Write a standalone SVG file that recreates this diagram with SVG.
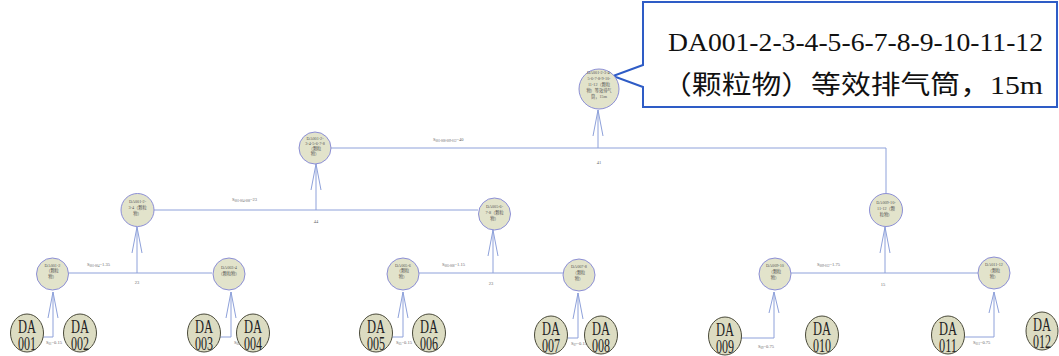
<svg xmlns="http://www.w3.org/2000/svg" width="1059" height="356" viewBox="0 0 1059 356">
<style>
.ln{stroke:#8ea1da;fill:none;stroke-width:1}
.nd{fill:#e2e3cb;stroke:#8c8fd6;stroke-width:1}
.da{fill:#dcdcc2;stroke:#4a4a3a;stroke-width:1}
.nt{font-family:"Liberation Serif","Noto Sans CJK SC",serif;font-size:4.2px;fill:#555;text-anchor:middle}
.dt{font-family:"Liberation Serif",serif;font-size:19px;fill:#222}
.lb{font-family:"Liberation Serif",serif;font-size:4.5px;fill:#666}
.ct{font-family:"Liberation Serif","Noto Sans CJK SC",serif;font-size:26px;fill:#111}
</style>
<defs>
<marker id="v" markerUnits="userSpaceOnUse" markerWidth="30" markerHeight="14" viewBox="-28 -7 30 14" refX="0" refY="0" orient="auto" overflow="visible">
<path d="M-26,-5 L0,0 L-26,5" fill="none" stroke="#8ea1da" stroke-width="1"/>
</marker>
<marker id="vs" markerUnits="userSpaceOnUse" markerWidth="24" markerHeight="14" viewBox="-22 -7 24 14" refX="0" refY="0" orient="auto" overflow="visible">
<path d="M-21,-5 L0,0 L-21,5" fill="none" stroke="#8ea1da" stroke-width="1"/>
</marker>
</defs>
<rect width="1059" height="356" fill="#fff"/>

<g id="connectors">
<path class="ln" d="M43,337 H53 V292" marker-end="url(#v)"/>
<path class="ln" d="M220,337 H231 V292" marker-end="url(#v)"/>
<path class="ln" d="M392,337 H403 V292" marker-end="url(#v)"/>
<path class="ln" d="M567,338 H578 V293" marker-end="url(#v)"/>
<path class="ln" d="M741,338 H774 V292" marker-end="url(#vs)"/>
<path class="ln" d="M965,337 H994 V292" marker-end="url(#vs)"/>
<path class="ln" d="M68,273 H212"/>
<path class="ln" d="M137,273 V227" marker-end="url(#v)"/>
<path class="ln" d="M419,273 H563"/>
<path class="ln" d="M493,273 V230" marker-end="url(#v)"/>
<path class="ln" d="M791,273 H978"/>
<path class="ln" d="M885,273 V227" marker-end="url(#v)"/>
<path class="ln" d="M154,210 H478"/>
<path class="ln" d="M316,210 V164" marker-end="url(#v)"/>
<path class="ln" d="M331,148 H886 V193"/>
<path class="ln" d="M598,148 V110" marker-end="url(#v)"/>
<text class="lb" x="46" y="344">S<tspan font-size="3px" dy="1">01</tspan><tspan dy="-1">=0.15</tspan></text>
<text class="lb" x="234" y="344">S<tspan font-size="3px" dy="1">03</tspan><tspan dy="-1">=0.15</tspan></text>
<text class="lb" x="396" y="344">S<tspan font-size="3px" dy="1">05</tspan><tspan dy="-1">=0.15</tspan></text>
<text class="lb" x="571" y="345">S<tspan font-size="3px" dy="1">07</tspan><tspan dy="-1">=0.15</tspan></text>
<text class="lb" x="758" y="348">S<tspan font-size="3px" dy="1">09</tspan><tspan dy="-1">=0.75</tspan></text>
<text class="lb" x="973" y="344">S<tspan font-size="3px" dy="1">011</tspan><tspan dy="-1">=0.75</tspan></text>
<text class="lb" x="87" y="266">S<tspan font-size="3px" dy="1">001-004</tspan><tspan dy="-1">=1.35</tspan></text>
<text class="lb" x="442" y="266">S<tspan font-size="3px" dy="1">005-008</tspan><tspan dy="-1">=1.15</tspan></text>
<text class="lb" x="817" y="266">S<tspan font-size="3px" dy="1">009-012</tspan><tspan dy="-1">=1.75</tspan></text>
<text class="lb" x="232" y="201">S<tspan font-size="3px" dy="1">001-004-008</tspan><tspan dy="-1">=23</tspan></text>
<text class="lb" x="433" y="141">S<tspan font-size="3px" dy="1">001-008-009-012</tspan><tspan dy="-1">=40</tspan></text>
<text class="lb" x="137" y="284" text-anchor="middle">23</text>
<text class="lb" x="491" y="285" text-anchor="middle">23</text>
<text class="lb" x="883" y="286" text-anchor="middle">15</text>
<text class="lb" x="316" y="223" text-anchor="middle">44</text>
<text class="lb" x="599" y="164" text-anchor="middle">41</text>
</g>

<g id="callout">
<path d="M643,2 H1057 V107 H643 V87 L613,76 L643,65 Z" fill="#fff" stroke="#2e5cc6" stroke-width="2"/>
<text class="ct" x="668" y="51" textLength="375" lengthAdjust="spacingAndGlyphs">DA001-2-3-4-5-6-7-8-9-10-11-12</text>
<text class="ct" x="662" y="94" textLength="381" lengthAdjust="spacingAndGlyphs">（颗粒物）等效排气筒，15m</text>
</g>

<g id="node-top">
<circle class="nd" cx="599" cy="89" r="20"/>
<text class="nt" x="599" y="74">DA001-2-3-4-</text>
<text class="nt" x="599" y="80">5-6-7-8-9-10-</text>
<text class="nt" x="599" y="86">11-12（颗粒</text>
<text class="nt" x="599" y="92">物）等效排气</text>
<text class="nt" x="599" y="98">筒，15m</text>
</g>
<g id="node-1-8">
<circle class="nd" cx="315" cy="148" r="16"/>
<text class="nt" x="315" y="140">DA001-2-</text>
<text class="nt" x="315" y="145">3-4-5-6-7-8</text>
<text class="nt" x="315" y="150">（颗粒</text>
<text class="nt" x="315" y="155">物）</text>
</g>
<g id="node-9-12">
<circle class="nd" cx="886" cy="210" r="16.5"/>
<text class="nt" x="886" y="204">DA009-10-</text>
<text class="nt" x="886" y="210">11-12（颗</text>
<text class="nt" x="886" y="216">粒物）</text>
</g>
<g id="node-1-4">
<circle class="nd" cx="137.5" cy="210" r="16.5"/>
<text class="nt" x="137.5" y="203">DA001-2-</text>
<text class="nt" x="137.5" y="209">3-4（颗粒</text>
<text class="nt" x="137.5" y="215">物）</text>
</g>
<g id="node-5-8">
<circle class="nd" cx="494.5" cy="214" r="16"/>
<text class="nt" x="494.5" y="208">DA005-6-</text>
<text class="nt" x="494.5" y="214">7-8（颗粒</text>
<text class="nt" x="494.5" y="220">物）</text>
</g>
<g id="node-1-2">
<circle class="nd" cx="52.5" cy="274" r="16"/>
<text class="nt" x="52.5" y="267">DA001-2</text>
<text class="nt" x="52.5" y="272">（颗粒</text>
<text class="nt" x="52.5" y="278">物）</text>
</g>
<g id="node-3-4">
<circle class="nd" cx="229" cy="274" r="16"/>
<text class="nt" x="229" y="269">DA003-4</text>
<text class="nt" x="229" y="275">（颗粒物）</text>
</g>
<g id="node-5-6">
<circle class="nd" cx="403" cy="274" r="16"/>
<text class="nt" x="403" y="267">DA005-6</text>
<text class="nt" x="403" y="272">（颗粒</text>
<text class="nt" x="403" y="278">物）</text>
</g>
<g id="node-7-8">
<circle class="nd" cx="579" cy="275" r="16"/>
<text class="nt" x="579" y="268">DA007-8</text>
<text class="nt" x="579" y="274">（颗粒</text>
<text class="nt" x="579" y="280">物）</text>
</g>
<g id="node-9-10">
<circle class="nd" cx="775" cy="274" r="16"/>
<text class="nt" x="775" y="267">DA009-10</text>
<text class="nt" x="775" y="273">（颗粒</text>
<text class="nt" x="775" y="279">物）</text>
</g>
<g id="node-11-12">
<circle class="nd" cx="994" cy="273" r="16"/>
<text class="nt" x="994" y="266">DA011-12</text>
<text class="nt" x="994" y="272">（颗粒</text>
<text class="nt" x="994" y="278">物）</text>
</g>

<g id="DA001"><ellipse class="da" cx="27" cy="333" rx="16.5" ry="19"/><text class="dt" x="18" y="333" textLength="18" lengthAdjust="spacingAndGlyphs">DA</text><text class="dt" x="18" y="350" textLength="18" lengthAdjust="spacingAndGlyphs">001</text></g>
<g id="DA002"><ellipse class="da" cx="80" cy="333" rx="16.5" ry="19"/><text class="dt" x="71" y="333" textLength="18" lengthAdjust="spacingAndGlyphs">DA</text><text class="dt" x="71" y="350" textLength="18" lengthAdjust="spacingAndGlyphs">002</text></g>
<g id="DA003"><ellipse class="da" cx="204" cy="333" rx="16.5" ry="19"/><text class="dt" x="195" y="333" textLength="18" lengthAdjust="spacingAndGlyphs">DA</text><text class="dt" x="195" y="350" textLength="18" lengthAdjust="spacingAndGlyphs">003</text></g>
<g id="DA004"><ellipse class="da" cx="253" cy="333" rx="16.5" ry="19"/><text class="dt" x="244" y="333" textLength="18" lengthAdjust="spacingAndGlyphs">DA</text><text class="dt" x="244" y="350" textLength="18" lengthAdjust="spacingAndGlyphs">004</text></g>
<g id="DA005"><ellipse class="da" cx="376" cy="333" rx="16.5" ry="19"/><text class="dt" x="367" y="333" textLength="18" lengthAdjust="spacingAndGlyphs">DA</text><text class="dt" x="367" y="350" textLength="18" lengthAdjust="spacingAndGlyphs">005</text></g>
<g id="DA006"><ellipse class="da" cx="429" cy="333" rx="16.5" ry="19"/><text class="dt" x="420" y="333" textLength="18" lengthAdjust="spacingAndGlyphs">DA</text><text class="dt" x="420" y="350" textLength="18" lengthAdjust="spacingAndGlyphs">006</text></g>
<g id="DA007"><ellipse class="da" cx="551" cy="335" rx="16.5" ry="19"/><text class="dt" x="542" y="335" textLength="18" lengthAdjust="spacingAndGlyphs">DA</text><text class="dt" x="542" y="352" textLength="18" lengthAdjust="spacingAndGlyphs">007</text></g>
<g id="DA008"><ellipse class="da" cx="601" cy="335" rx="16.5" ry="19"/><text class="dt" x="592" y="335" textLength="18" lengthAdjust="spacingAndGlyphs">DA</text><text class="dt" x="592" y="352" textLength="18" lengthAdjust="spacingAndGlyphs">008</text></g>
<g id="DA009"><ellipse class="da" cx="725" cy="336" rx="16.5" ry="19"/><text class="dt" x="716" y="336" textLength="18" lengthAdjust="spacingAndGlyphs">DA</text><text class="dt" x="716" y="353" textLength="18" lengthAdjust="spacingAndGlyphs">009</text></g>
<g id="DA010"><ellipse class="da" cx="822" cy="335" rx="16.5" ry="19"/><text class="dt" x="813" y="335" textLength="18" lengthAdjust="spacingAndGlyphs">DA</text><text class="dt" x="813" y="352" textLength="18" lengthAdjust="spacingAndGlyphs">010</text></g>
<g id="DA011"><ellipse class="da" cx="948" cy="335" rx="16.5" ry="19"/><text class="dt" x="939" y="335" textLength="18" lengthAdjust="spacingAndGlyphs">DA</text><text class="dt" x="939" y="352" textLength="18" lengthAdjust="spacingAndGlyphs">011</text></g>
<g id="DA012"><ellipse class="da" cx="1042" cy="331" rx="16" ry="19"/><text class="dt" x="1033" y="331" textLength="18" lengthAdjust="spacingAndGlyphs">DA</text><text class="dt" x="1033" y="348" textLength="18" lengthAdjust="spacingAndGlyphs">012</text></g>
</svg>
